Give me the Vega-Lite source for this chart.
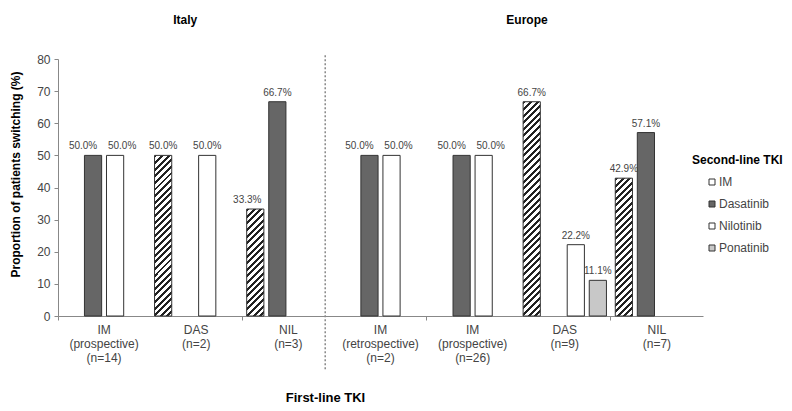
{
"$schema":"https://vega.github.io/schema/vega-lite/v6.json",
"width":645,"height":257,"autosize":"none",
"padding":{"left":58,"top":59,"right":89,"bottom":95},
"background":"white",
"config":{"view":{"stroke":null},"font":"Liberation Sans"},
"data":{"values":[
{"cat":"IM|(prospective)|(n=14)","tki":"Dasatinib","value":50},
{"cat":"IM|(prospective)|(n=14)","tki":"Nilotinib","value":50},
{"cat":"DAS|(n=2)","tki":"IM","value":50},
{"cat":"DAS|(n=2)","tki":"Nilotinib","value":50},
{"cat":"NIL|(n=3)","tki":"IM","value":33.3},
{"cat":"NIL|(n=3)","tki":"Dasatinib","value":66.7},
{"cat":"IM|(retrospective)|(n=2)","tki":"Dasatinib","value":50},
{"cat":"IM|(retrospective)|(n=2)","tki":"Nilotinib","value":50},
{"cat":"IM|(prospective)|(n=26)","tki":"Dasatinib","value":50},
{"cat":"IM|(prospective)|(n=26)","tki":"Nilotinib","value":50},
{"cat":"DAS|(n=9)","tki":"IM","value":66.7},
{"cat":"DAS|(n=9)","tki":"Nilotinib","value":22.2},
{"cat":"DAS|(n=9)","tki":"Ponatinib","value":11.1},
{"cat":"NIL|(n=7)","tki":"IM","value":42.9},
{"cat":"NIL|(n=7)","tki":"Dasatinib","value":57.1}
]},
"resolve":{"axis":{"x":"independent","y":"independent"}},
"layer":[
{"transform":[{"filter":"datum.tki !== 'IM'"}],
 "mark":{"type":"bar","stroke":"#333333","strokeWidth":1},
 "encoding":{
  "x":{"field":"cat","type":"nominal","scale":{"domain":["IM|(prospective)|(n=14)","DAS|(n=2)","NIL|(n=3)","IM|(retrospective)|(n=2)","IM|(prospective)|(n=26)","DAS|(n=9)","NIL|(n=7)"],"paddingInner":0,"paddingOuter":0},
   "axis":{"orient":"bottom","title":"First-line TKI","labelExpr":"split(datum.label,'|')","labelAngle":0,"ticks":false,"tickSize":0,"domainColor":"#888888","labelFont":"Liberation Sans","labelFontSize":12,"labelColor":"#444444","labelLineHeight":14,"labelPadding":8,"labelBaseline":"top","titleFont":"Liberation Sans","titleFontSize":13,"titleFontWeight":"bold","titleColor":"#000000","titleX":267,"titleY":81,"titleBaseline":"middle"}},
  "xOffset":{"field":"tki","type":"nominal","scale":{"domain":["IM","Dasatinib","Nilotinib","Ponatinib"],"paddingInner":0.22,"paddingOuter":0.2}},
  "y":{"field":"value","type":"quantitative","scale":{"domain":[0,80]},
   "axis":{"orient":"left","title":"Proportion of patients switching (%)","values":[0,10,20,30,40,50,60,70,80],"grid":false,"domainColor":"#888888","tickColor":"#888888","tickSize":4,"labelFont":"Liberation Sans","labelFontSize":12,"labelColor":"#444444","labelPadding":4,"titleFont":"Liberation Sans","titleFontSize":12,"titleFontWeight":"bold","titleColor":"#000000","titleX":-43,"titleY":115,"titleBaseline":"middle"}},
  "fill":{"field":"tki","type":"nominal","scale":{"domain":["IM","Dasatinib","Nilotinib","Ponatinib"],"range":["#ffffff","#666666","#ffffff","#c8c8c8"]},
   "legend":{"title":"Second-line TKI","orient":"none","legendX":634,"legendY":96,"titleFont":"Liberation Sans","titleFontSize":12,"titleFontWeight":"bold","titleColor":"#000000","titlePadding":9,"labelFont":"Liberation Sans","labelFontSize":12,"labelColor":"#444444","symbolType":"square","symbolSize":36,"symbolStrokeColor":"#333333","symbolStrokeWidth":1,"symbolOffset":14,"labelOffset":1,"rowPadding":10,"padding":0,
    "encode":{"symbols":{"update":{"fill":{"signal":"datum.value === 'IM' ? '#8f8f8f' : scale('fill', datum.value)"},"stroke":{"value":"#333333"},"strokeWidth":{"value":1}}}}}}
 }},
{"transform":[{"filter":"datum.tki === 'IM' && datum.cat === 'DAS|(n=2)'"}],
 "mark":{"type":"bar","stroke":"#333333","strokeWidth":1,"fill":{"gradient":"linear","x1":0,"y1":0,"x2":0.1527,"y2":1.4255,"stops":[
{"offset":0,"color":"#222"},{"offset":0.0129,"color":"#222"},{"offset":0.0129,"color":"#fff"},{"offset":0.0286,"color":"#fff"},
{"offset":0.0286,"color":"#222"},{"offset":0.0414,"color":"#222"},{"offset":0.0414,"color":"#fff"},{"offset":0.0571,"color":"#fff"},
{"offset":0.0571,"color":"#222"},{"offset":0.07,"color":"#222"},{"offset":0.07,"color":"#fff"},{"offset":0.0857,"color":"#fff"},
{"offset":0.0857,"color":"#222"},{"offset":0.0986,"color":"#222"},{"offset":0.0986,"color":"#fff"},{"offset":0.1143,"color":"#fff"},
{"offset":0.1143,"color":"#222"},{"offset":0.1271,"color":"#222"},{"offset":0.1271,"color":"#fff"},{"offset":0.1429,"color":"#fff"},
{"offset":0.1429,"color":"#222"},{"offset":0.1557,"color":"#222"},{"offset":0.1557,"color":"#fff"},{"offset":0.1714,"color":"#fff"},
{"offset":0.1714,"color":"#222"},{"offset":0.1843,"color":"#222"},{"offset":0.1843,"color":"#fff"},{"offset":0.2,"color":"#fff"},
{"offset":0.2,"color":"#222"},{"offset":0.2129,"color":"#222"},{"offset":0.2129,"color":"#fff"},{"offset":0.2286,"color":"#fff"},
{"offset":0.2286,"color":"#222"},{"offset":0.2414,"color":"#222"},{"offset":0.2414,"color":"#fff"},{"offset":0.2571,"color":"#fff"},
{"offset":0.2571,"color":"#222"},{"offset":0.27,"color":"#222"},{"offset":0.27,"color":"#fff"},{"offset":0.2857,"color":"#fff"},
{"offset":0.2857,"color":"#222"},{"offset":0.2986,"color":"#222"},{"offset":0.2986,"color":"#fff"},{"offset":0.3143,"color":"#fff"},
{"offset":0.3143,"color":"#222"},{"offset":0.3271,"color":"#222"},{"offset":0.3271,"color":"#fff"},{"offset":0.3429,"color":"#fff"},
{"offset":0.3429,"color":"#222"},{"offset":0.3557,"color":"#222"},{"offset":0.3557,"color":"#fff"},{"offset":0.3714,"color":"#fff"},
{"offset":0.3714,"color":"#222"},{"offset":0.3843,"color":"#222"},{"offset":0.3843,"color":"#fff"},{"offset":0.4,"color":"#fff"},
{"offset":0.4,"color":"#222"},{"offset":0.4129,"color":"#222"},{"offset":0.4129,"color":"#fff"},{"offset":0.4286,"color":"#fff"},
{"offset":0.4286,"color":"#222"},{"offset":0.4414,"color":"#222"},{"offset":0.4414,"color":"#fff"},{"offset":0.4571,"color":"#fff"},
{"offset":0.4571,"color":"#222"},{"offset":0.47,"color":"#222"},{"offset":0.47,"color":"#fff"},{"offset":0.4857,"color":"#fff"},
{"offset":0.4857,"color":"#222"},{"offset":0.4986,"color":"#222"},{"offset":0.4986,"color":"#fff"},{"offset":0.5143,"color":"#fff"},
{"offset":0.5143,"color":"#222"},{"offset":0.5271,"color":"#222"},{"offset":0.5271,"color":"#fff"},{"offset":0.5429,"color":"#fff"},
{"offset":0.5429,"color":"#222"},{"offset":0.5557,"color":"#222"},{"offset":0.5557,"color":"#fff"},{"offset":0.5714,"color":"#fff"},
{"offset":0.5714,"color":"#222"},{"offset":0.5843,"color":"#222"},{"offset":0.5843,"color":"#fff"},{"offset":0.6,"color":"#fff"},
{"offset":0.6,"color":"#222"},{"offset":0.6129,"color":"#222"},{"offset":0.6129,"color":"#fff"},{"offset":0.6286,"color":"#fff"},
{"offset":0.6286,"color":"#222"},{"offset":0.6414,"color":"#222"},{"offset":0.6414,"color":"#fff"},{"offset":0.6571,"color":"#fff"},
{"offset":0.6571,"color":"#222"},{"offset":0.67,"color":"#222"},{"offset":0.67,"color":"#fff"},{"offset":0.6857,"color":"#fff"},
{"offset":0.6857,"color":"#222"},{"offset":0.6986,"color":"#222"},{"offset":0.6986,"color":"#fff"},{"offset":0.7143,"color":"#fff"},
{"offset":0.7143,"color":"#222"},{"offset":0.7271,"color":"#222"},{"offset":0.7271,"color":"#fff"},{"offset":0.7429,"color":"#fff"},
{"offset":0.7429,"color":"#222"},{"offset":0.7557,"color":"#222"},{"offset":0.7557,"color":"#fff"},{"offset":0.7714,"color":"#fff"}]}},
 "encoding":{
  "x":{"field":"cat","type":"nominal","scale":{"domain":["IM|(prospective)|(n=14)","DAS|(n=2)","NIL|(n=3)","IM|(retrospective)|(n=2)","IM|(prospective)|(n=26)","DAS|(n=9)","NIL|(n=7)"]},
   "axis":{"orient":"bottom","values":["IM|(prospective)|(n=14)","NIL|(n=3)","IM|(prospective)|(n=26)","NIL|(n=7)"],"bandPosition":0,"labels":false,"domain":false,"title":null,"tickSize":4,"tickColor":"#888888","grid":false}},
  "xOffset":{"field":"tki","type":"nominal","scale":{"domain":["IM","Dasatinib","Nilotinib","Ponatinib"]}},
  "y":{"field":"value","type":"quantitative","scale":{"domain":[0,80]},"axis":null}
 }},
{"transform":[{"filter":"datum.tki === 'IM' && datum.cat === 'NIL|(n=3)'"}],
 "mark":{"type":"bar","stroke":"#333333","strokeWidth":1,"fill":{"gradient":"linear","x1":0,"y1":0,"x2":0.3392,"y2":2.1097,"stops":[
{"offset":0,"color":"#222"},{"offset":0.0129,"color":"#222"},{"offset":0.0129,"color":"#fff"},{"offset":0.0286,"color":"#fff"},
{"offset":0.0286,"color":"#222"},{"offset":0.0414,"color":"#222"},{"offset":0.0414,"color":"#fff"},{"offset":0.0571,"color":"#fff"},
{"offset":0.0571,"color":"#222"},{"offset":0.07,"color":"#222"},{"offset":0.07,"color":"#fff"},{"offset":0.0857,"color":"#fff"},
{"offset":0.0857,"color":"#222"},{"offset":0.0986,"color":"#222"},{"offset":0.0986,"color":"#fff"},{"offset":0.1143,"color":"#fff"},
{"offset":0.1143,"color":"#222"},{"offset":0.1271,"color":"#222"},{"offset":0.1271,"color":"#fff"},{"offset":0.1429,"color":"#fff"},
{"offset":0.1429,"color":"#222"},{"offset":0.1557,"color":"#222"},{"offset":0.1557,"color":"#fff"},{"offset":0.1714,"color":"#fff"},
{"offset":0.1714,"color":"#222"},{"offset":0.1843,"color":"#222"},{"offset":0.1843,"color":"#fff"},{"offset":0.2,"color":"#fff"},
{"offset":0.2,"color":"#222"},{"offset":0.2129,"color":"#222"},{"offset":0.2129,"color":"#fff"},{"offset":0.2286,"color":"#fff"},
{"offset":0.2286,"color":"#222"},{"offset":0.2414,"color":"#222"},{"offset":0.2414,"color":"#fff"},{"offset":0.2571,"color":"#fff"},
{"offset":0.2571,"color":"#222"},{"offset":0.27,"color":"#222"},{"offset":0.27,"color":"#fff"},{"offset":0.2857,"color":"#fff"},
{"offset":0.2857,"color":"#222"},{"offset":0.2986,"color":"#222"},{"offset":0.2986,"color":"#fff"},{"offset":0.3143,"color":"#fff"},
{"offset":0.3143,"color":"#222"},{"offset":0.3271,"color":"#222"},{"offset":0.3271,"color":"#fff"},{"offset":0.3429,"color":"#fff"},
{"offset":0.3429,"color":"#222"},{"offset":0.3557,"color":"#222"},{"offset":0.3557,"color":"#fff"},{"offset":0.3714,"color":"#fff"},
{"offset":0.3714,"color":"#222"},{"offset":0.3843,"color":"#222"},{"offset":0.3843,"color":"#fff"},{"offset":0.4,"color":"#fff"},
{"offset":0.4,"color":"#222"},{"offset":0.4129,"color":"#222"},{"offset":0.4129,"color":"#fff"},{"offset":0.4286,"color":"#fff"},
{"offset":0.4286,"color":"#222"},{"offset":0.4414,"color":"#222"},{"offset":0.4414,"color":"#fff"},{"offset":0.4571,"color":"#fff"},
{"offset":0.4571,"color":"#222"},{"offset":0.47,"color":"#222"},{"offset":0.47,"color":"#fff"},{"offset":0.4857,"color":"#fff"},
{"offset":0.4857,"color":"#222"},{"offset":0.4986,"color":"#222"},{"offset":0.4986,"color":"#fff"},{"offset":0.5143,"color":"#fff"},
{"offset":0.5143,"color":"#222"},{"offset":0.5271,"color":"#222"},{"offset":0.5271,"color":"#fff"},{"offset":0.5429,"color":"#fff"}]}},
 "encoding":{
  "x":{"field":"cat","type":"nominal","scale":{"domain":["IM|(prospective)|(n=14)","DAS|(n=2)","NIL|(n=3)","IM|(retrospective)|(n=2)","IM|(prospective)|(n=26)","DAS|(n=9)","NIL|(n=7)"]},"axis":null},
  "xOffset":{"field":"tki","type":"nominal","scale":{"domain":["IM","Dasatinib","Nilotinib","Ponatinib"]}},
  "y":{"field":"value","type":"quantitative","scale":{"domain":[0,80]},"axis":null}
 }},
{"transform":[{"filter":"datum.tki === 'IM' && datum.cat === 'DAS|(n=9)'"}],
 "mark":{"type":"bar","stroke":"#333333","strokeWidth":1,"fill":{"gradient":"linear","x1":0,"y1":0,"x2":0.0862,"y2":1.0734,"stops":[
{"offset":0,"color":"#222"},{"offset":0.0129,"color":"#222"},{"offset":0.0129,"color":"#fff"},{"offset":0.0286,"color":"#fff"},
{"offset":0.0286,"color":"#222"},{"offset":0.0414,"color":"#222"},{"offset":0.0414,"color":"#fff"},{"offset":0.0571,"color":"#fff"},
{"offset":0.0571,"color":"#222"},{"offset":0.07,"color":"#222"},{"offset":0.07,"color":"#fff"},{"offset":0.0857,"color":"#fff"},
{"offset":0.0857,"color":"#222"},{"offset":0.0986,"color":"#222"},{"offset":0.0986,"color":"#fff"},{"offset":0.1143,"color":"#fff"},
{"offset":0.1143,"color":"#222"},{"offset":0.1271,"color":"#222"},{"offset":0.1271,"color":"#fff"},{"offset":0.1429,"color":"#fff"},
{"offset":0.1429,"color":"#222"},{"offset":0.1557,"color":"#222"},{"offset":0.1557,"color":"#fff"},{"offset":0.1714,"color":"#fff"},
{"offset":0.1714,"color":"#222"},{"offset":0.1843,"color":"#222"},{"offset":0.1843,"color":"#fff"},{"offset":0.2,"color":"#fff"},
{"offset":0.2,"color":"#222"},{"offset":0.2129,"color":"#222"},{"offset":0.2129,"color":"#fff"},{"offset":0.2286,"color":"#fff"},
{"offset":0.2286,"color":"#222"},{"offset":0.2414,"color":"#222"},{"offset":0.2414,"color":"#fff"},{"offset":0.2571,"color":"#fff"},
{"offset":0.2571,"color":"#222"},{"offset":0.27,"color":"#222"},{"offset":0.27,"color":"#fff"},{"offset":0.2857,"color":"#fff"},
{"offset":0.2857,"color":"#222"},{"offset":0.2986,"color":"#222"},{"offset":0.2986,"color":"#fff"},{"offset":0.3143,"color":"#fff"},
{"offset":0.3143,"color":"#222"},{"offset":0.3271,"color":"#222"},{"offset":0.3271,"color":"#fff"},{"offset":0.3429,"color":"#fff"},
{"offset":0.3429,"color":"#222"},{"offset":0.3557,"color":"#222"},{"offset":0.3557,"color":"#fff"},{"offset":0.3714,"color":"#fff"},
{"offset":0.3714,"color":"#222"},{"offset":0.3843,"color":"#222"},{"offset":0.3843,"color":"#fff"},{"offset":0.4,"color":"#fff"},
{"offset":0.4,"color":"#222"},{"offset":0.4129,"color":"#222"},{"offset":0.4129,"color":"#fff"},{"offset":0.4286,"color":"#fff"},
{"offset":0.4286,"color":"#222"},{"offset":0.4414,"color":"#222"},{"offset":0.4414,"color":"#fff"},{"offset":0.4571,"color":"#fff"},
{"offset":0.4571,"color":"#222"},{"offset":0.47,"color":"#222"},{"offset":0.47,"color":"#fff"},{"offset":0.4857,"color":"#fff"},
{"offset":0.4857,"color":"#222"},{"offset":0.4986,"color":"#222"},{"offset":0.4986,"color":"#fff"},{"offset":0.5143,"color":"#fff"},
{"offset":0.5143,"color":"#222"},{"offset":0.5271,"color":"#222"},{"offset":0.5271,"color":"#fff"},{"offset":0.5429,"color":"#fff"},
{"offset":0.5429,"color":"#222"},{"offset":0.5557,"color":"#222"},{"offset":0.5557,"color":"#fff"},{"offset":0.5714,"color":"#fff"},
{"offset":0.5714,"color":"#222"},{"offset":0.5843,"color":"#222"},{"offset":0.5843,"color":"#fff"},{"offset":0.6,"color":"#fff"},
{"offset":0.6,"color":"#222"},{"offset":0.6129,"color":"#222"},{"offset":0.6129,"color":"#fff"},{"offset":0.6286,"color":"#fff"},
{"offset":0.6286,"color":"#222"},{"offset":0.6414,"color":"#222"},{"offset":0.6414,"color":"#fff"},{"offset":0.6571,"color":"#fff"},
{"offset":0.6571,"color":"#222"},{"offset":0.67,"color":"#222"},{"offset":0.67,"color":"#fff"},{"offset":0.6857,"color":"#fff"},
{"offset":0.6857,"color":"#222"},{"offset":0.6986,"color":"#222"},{"offset":0.6986,"color":"#fff"},{"offset":0.7143,"color":"#fff"},
{"offset":0.7143,"color":"#222"},{"offset":0.7271,"color":"#222"},{"offset":0.7271,"color":"#fff"},{"offset":0.7429,"color":"#fff"},
{"offset":0.7429,"color":"#222"},{"offset":0.7557,"color":"#222"},{"offset":0.7557,"color":"#fff"},{"offset":0.7714,"color":"#fff"},
{"offset":0.7714,"color":"#222"},{"offset":0.7843,"color":"#222"},{"offset":0.7843,"color":"#fff"},{"offset":0.8,"color":"#fff"},
{"offset":0.8,"color":"#222"},{"offset":0.8129,"color":"#222"},{"offset":0.8129,"color":"#fff"},{"offset":0.8286,"color":"#fff"},
{"offset":0.8286,"color":"#222"},{"offset":0.8414,"color":"#222"},{"offset":0.8414,"color":"#fff"},{"offset":0.8571,"color":"#fff"},
{"offset":0.8571,"color":"#222"},{"offset":0.87,"color":"#222"},{"offset":0.87,"color":"#fff"},{"offset":0.8857,"color":"#fff"},
{"offset":0.8857,"color":"#222"},{"offset":0.8986,"color":"#222"},{"offset":0.8986,"color":"#fff"},{"offset":0.9143,"color":"#fff"},
{"offset":0.9143,"color":"#222"},{"offset":0.9271,"color":"#222"},{"offset":0.9271,"color":"#fff"},{"offset":0.9429,"color":"#fff"},
{"offset":0.9429,"color":"#222"},{"offset":0.9557,"color":"#222"},{"offset":0.9557,"color":"#fff"},{"offset":0.9714,"color":"#fff"},
{"offset":0.9714,"color":"#222"},{"offset":0.9843,"color":"#222"},{"offset":0.9843,"color":"#fff"},{"offset":1,"color":"#fff"}]}},
 "encoding":{
  "x":{"field":"cat","type":"nominal","scale":{"domain":["IM|(prospective)|(n=14)","DAS|(n=2)","NIL|(n=3)","IM|(retrospective)|(n=2)","IM|(prospective)|(n=26)","DAS|(n=9)","NIL|(n=7)"]},"axis":null},
  "xOffset":{"field":"tki","type":"nominal","scale":{"domain":["IM","Dasatinib","Nilotinib","Ponatinib"]}},
  "y":{"field":"value","type":"quantitative","scale":{"domain":[0,80]},"axis":null}
 }},
{"transform":[{"filter":"datum.tki === 'IM' && datum.cat === 'NIL|(n=7)'"}],
 "mark":{"type":"bar","stroke":"#333333","strokeWidth":1,"fill":{"gradient":"linear","x1":0,"y1":0,"x2":0.2065,"y2":1.6543,"stops":[
{"offset":0,"color":"#222"},{"offset":0.0129,"color":"#222"},{"offset":0.0129,"color":"#fff"},{"offset":0.0286,"color":"#fff"},
{"offset":0.0286,"color":"#222"},{"offset":0.0414,"color":"#222"},{"offset":0.0414,"color":"#fff"},{"offset":0.0571,"color":"#fff"},
{"offset":0.0571,"color":"#222"},{"offset":0.07,"color":"#222"},{"offset":0.07,"color":"#fff"},{"offset":0.0857,"color":"#fff"},
{"offset":0.0857,"color":"#222"},{"offset":0.0986,"color":"#222"},{"offset":0.0986,"color":"#fff"},{"offset":0.1143,"color":"#fff"},
{"offset":0.1143,"color":"#222"},{"offset":0.1271,"color":"#222"},{"offset":0.1271,"color":"#fff"},{"offset":0.1429,"color":"#fff"},
{"offset":0.1429,"color":"#222"},{"offset":0.1557,"color":"#222"},{"offset":0.1557,"color":"#fff"},{"offset":0.1714,"color":"#fff"},
{"offset":0.1714,"color":"#222"},{"offset":0.1843,"color":"#222"},{"offset":0.1843,"color":"#fff"},{"offset":0.2,"color":"#fff"},
{"offset":0.2,"color":"#222"},{"offset":0.2129,"color":"#222"},{"offset":0.2129,"color":"#fff"},{"offset":0.2286,"color":"#fff"},
{"offset":0.2286,"color":"#222"},{"offset":0.2414,"color":"#222"},{"offset":0.2414,"color":"#fff"},{"offset":0.2571,"color":"#fff"},
{"offset":0.2571,"color":"#222"},{"offset":0.27,"color":"#222"},{"offset":0.27,"color":"#fff"},{"offset":0.2857,"color":"#fff"},
{"offset":0.2857,"color":"#222"},{"offset":0.2986,"color":"#222"},{"offset":0.2986,"color":"#fff"},{"offset":0.3143,"color":"#fff"},
{"offset":0.3143,"color":"#222"},{"offset":0.3271,"color":"#222"},{"offset":0.3271,"color":"#fff"},{"offset":0.3429,"color":"#fff"},
{"offset":0.3429,"color":"#222"},{"offset":0.3557,"color":"#222"},{"offset":0.3557,"color":"#fff"},{"offset":0.3714,"color":"#fff"},
{"offset":0.3714,"color":"#222"},{"offset":0.3843,"color":"#222"},{"offset":0.3843,"color":"#fff"},{"offset":0.4,"color":"#fff"},
{"offset":0.4,"color":"#222"},{"offset":0.4129,"color":"#222"},{"offset":0.4129,"color":"#fff"},{"offset":0.4286,"color":"#fff"},
{"offset":0.4286,"color":"#222"},{"offset":0.4414,"color":"#222"},{"offset":0.4414,"color":"#fff"},{"offset":0.4571,"color":"#fff"},
{"offset":0.4571,"color":"#222"},{"offset":0.47,"color":"#222"},{"offset":0.47,"color":"#fff"},{"offset":0.4857,"color":"#fff"},
{"offset":0.4857,"color":"#222"},{"offset":0.4986,"color":"#222"},{"offset":0.4986,"color":"#fff"},{"offset":0.5143,"color":"#fff"},
{"offset":0.5143,"color":"#222"},{"offset":0.5271,"color":"#222"},{"offset":0.5271,"color":"#fff"},{"offset":0.5429,"color":"#fff"},
{"offset":0.5429,"color":"#222"},{"offset":0.5557,"color":"#222"},{"offset":0.5557,"color":"#fff"},{"offset":0.5714,"color":"#fff"},
{"offset":0.5714,"color":"#222"},{"offset":0.5843,"color":"#222"},{"offset":0.5843,"color":"#fff"},{"offset":0.6,"color":"#fff"},
{"offset":0.6,"color":"#222"},{"offset":0.6129,"color":"#222"},{"offset":0.6129,"color":"#fff"},{"offset":0.6286,"color":"#fff"},
{"offset":0.6286,"color":"#222"},{"offset":0.6414,"color":"#222"},{"offset":0.6414,"color":"#fff"},{"offset":0.6571,"color":"#fff"},
{"offset":0.6571,"color":"#222"},{"offset":0.67,"color":"#222"},{"offset":0.67,"color":"#fff"},{"offset":0.6857,"color":"#fff"}]}},
 "encoding":{
  "x":{"field":"cat","type":"nominal","scale":{"domain":["IM|(prospective)|(n=14)","DAS|(n=2)","NIL|(n=3)","IM|(retrospective)|(n=2)","IM|(prospective)|(n=26)","DAS|(n=9)","NIL|(n=7)"]},"axis":null},
  "xOffset":{"field":"tki","type":"nominal","scale":{"domain":["IM","Dasatinib","Nilotinib","Ponatinib"]}},
  "y":{"field":"value","type":"quantitative","scale":{"domain":[0,80]},"axis":null}
 }},
{"transform":[{"calculate":"format(datum.value,'.1f')+'%'","as":"label"},{"filter":"!(datum.tki==='Dasatinib' && datum.value===50) && !(datum.tki==='Nilotinib' && indexof(datum.cat,'IM')===0) && !(datum.tki==='IM' && datum.cat==='NIL|(n=3)')"}],
 "mark":{"type":"text","baseline":"bottom","dy":-4,"font":"Liberation Sans","fontSize":10,"fill":"#444444"},
 "encoding":{
  "x":{"field":"cat","type":"nominal","scale":{"domain":["IM|(prospective)|(n=14)","DAS|(n=2)","NIL|(n=3)","IM|(retrospective)|(n=2)","IM|(prospective)|(n=26)","DAS|(n=9)","NIL|(n=7)"]},"axis":null},
  "xOffset":{"field":"tki","type":"nominal","scale":{"domain":["IM","Dasatinib","Nilotinib","Ponatinib"]}},
  "y":{"field":"value","type":"quantitative","scale":{"domain":[0,80]},"axis":null},
  "text":{"field":"label","type":"nominal"}
 }},
{"transform":[{"calculate":"format(datum.value,'.1f')+'%'","as":"label"},{"filter":"datum.tki==='Dasatinib' && datum.value===50"}],
 "mark":{"type":"text","baseline":"bottom","dy":-4,"dx":-10,"font":"Liberation Sans","fontSize":10,"fill":"#444444"},
 "encoding":{
  "x":{"field":"cat","type":"nominal","scale":{"domain":["IM|(prospective)|(n=14)","DAS|(n=2)","NIL|(n=3)","IM|(retrospective)|(n=2)","IM|(prospective)|(n=26)","DAS|(n=9)","NIL|(n=7)"]},"axis":null},
  "xOffset":{"field":"tki","type":"nominal","scale":{"domain":["IM","Dasatinib","Nilotinib","Ponatinib"]}},
  "y":{"field":"value","type":"quantitative","scale":{"domain":[0,80]},"axis":null},
  "text":{"field":"label","type":"nominal"}
 }},
{"transform":[{"calculate":"format(datum.value,'.1f')+'%'","as":"label"},{"filter":"datum.tki==='Nilotinib' && indexof(datum.cat,'IM')===0"}],
 "mark":{"type":"text","baseline":"bottom","dy":-4,"dx":7,"font":"Liberation Sans","fontSize":10,"fill":"#444444"},
 "encoding":{
  "x":{"field":"cat","type":"nominal","scale":{"domain":["IM|(prospective)|(n=14)","DAS|(n=2)","NIL|(n=3)","IM|(retrospective)|(n=2)","IM|(prospective)|(n=26)","DAS|(n=9)","NIL|(n=7)"]},"axis":null},
  "xOffset":{"field":"tki","type":"nominal","scale":{"domain":["IM","Dasatinib","Nilotinib","Ponatinib"]}},
  "y":{"field":"value","type":"quantitative","scale":{"domain":[0,80]},"axis":null},
  "text":{"field":"label","type":"nominal"}
 }},
{"transform":[{"calculate":"format(datum.value,'.1f')+'%'","as":"label"},{"filter":"datum.tki==='IM' && datum.cat==='NIL|(n=3)'"}],
 "mark":{"type":"text","baseline":"bottom","dy":-4,"dx":-8,"font":"Liberation Sans","fontSize":10,"fill":"#444444"},
 "encoding":{
  "x":{"field":"cat","type":"nominal","scale":{"domain":["IM|(prospective)|(n=14)","DAS|(n=2)","NIL|(n=3)","IM|(retrospective)|(n=2)","IM|(prospective)|(n=26)","DAS|(n=9)","NIL|(n=7)"]},"axis":null},
  "xOffset":{"field":"tki","type":"nominal","scale":{"domain":["IM","Dasatinib","Nilotinib","Ponatinib"]}},
  "y":{"field":"value","type":"quantitative","scale":{"domain":[0,80]},"axis":null},
  "text":{"field":"label","type":"nominal"}
 }},
{"data":{"values":[{"divider":"Italy | Europe"}]},
 "mark":{"type":"rule","color":"#888888","strokeWidth":1.5,"strokeDash":[2,2]},
 "encoding":{
  "x":{"datum":"NIL|(n=3)","type":"nominal","bandPosition":0.9,"scale":{"domain":["IM|(prospective)|(n=14)","DAS|(n=2)","NIL|(n=3)","IM|(retrospective)|(n=2)","IM|(prospective)|(n=26)","DAS|(n=9)","NIL|(n=7)"]},"axis":null},
  "y":{"datum":81.2,"type":"quantitative","scale":{"domain":[0,80]},"axis":null},
  "y2":{"datum":-17.1}
 }},
{"data":{"values":[{"region":"Italy"}]},
 "mark":{"type":"text","baseline":"middle","font":"Liberation Sans","fontSize":12,"fontWeight":"bold","fill":"#000000"},
 "encoding":{
  "x":{"datum":"DAS|(n=2)","type":"nominal","bandPosition":0.38,"scale":{"domain":["IM|(prospective)|(n=14)","DAS|(n=2)","NIL|(n=3)","IM|(retrospective)|(n=2)","IM|(prospective)|(n=26)","DAS|(n=9)","NIL|(n=7)"]},"axis":null},
  "y":{"datum":92.1,"type":"quantitative","scale":{"domain":[0,80]},"axis":null},
  "text":{"field":"region","type":"nominal"}
 }},
{"data":{"values":[{"region":"Europe"}]},
 "mark":{"type":"text","baseline":"middle","font":"Liberation Sans","fontSize":12,"fontWeight":"bold","fill":"#000000"},
 "encoding":{
  "x":{"datum":"DAS|(n=9)","type":"nominal","bandPosition":0.09,"scale":{"domain":["IM|(prospective)|(n=14)","DAS|(n=2)","NIL|(n=3)","IM|(retrospective)|(n=2)","IM|(prospective)|(n=26)","DAS|(n=9)","NIL|(n=7)"]},"axis":null},
  "y":{"datum":92.1,"type":"quantitative","scale":{"domain":[0,80]},"axis":null},
  "text":{"field":"region","type":"nominal"}
 }}
]
}
